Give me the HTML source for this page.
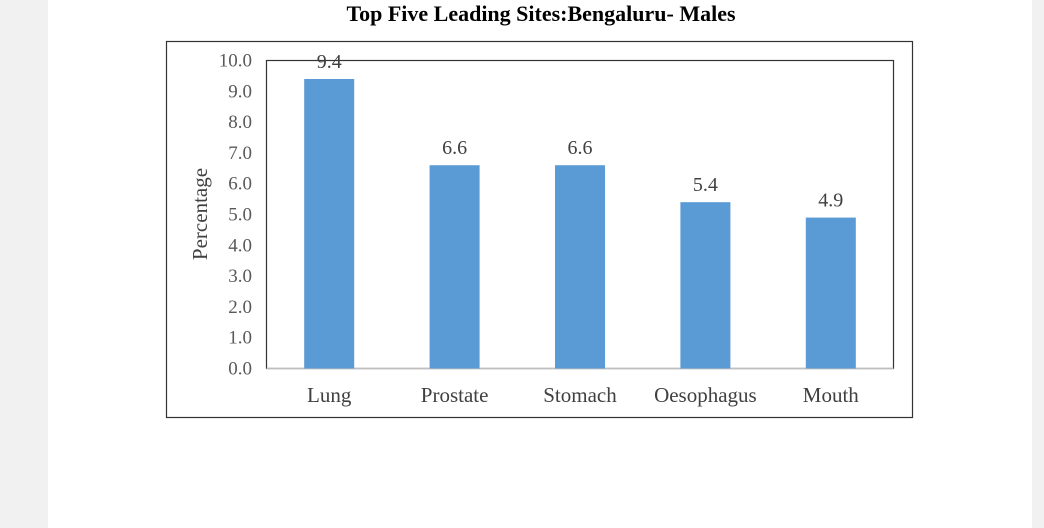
<!DOCTYPE html>
<html><head><meta charset="utf-8"><style>
body{margin:0;width:1044px;height:528px;background:#f1f1f1;overflow:hidden;font-family:"Liberation Serif",serif}
#page{position:absolute;left:48px;top:0;width:984px;height:528px;background:#fff}
</style></head><body>
<div id="page"></div>
<svg id="chart" width="1044" height="528" style="position:absolute;left:0;top:0">
<text x="541" y="21" text-anchor="middle" font-size="22" font-weight="bold" fill="#000">Top Five Leading Sites:Bengaluru- Males</text>
<rect x="166.5" y="41.5" width="746" height="376" fill="none" stroke="#333" stroke-width="1.2"/>
<rect x="266.5" y="60.5" width="627" height="308" fill="none" stroke="#333" stroke-width="1.2"/>
<text transform="translate(207,214) rotate(-90)" text-anchor="middle" font-size="21" fill="#404040">Percentage</text>
<g id="g"></g>
</svg>
<script>
const categories=["Lung","Prostate","Stomach","Oesophagus","Mouth"];
const values=[9.4,6.6,6.6,5.4,4.9];
const labels=["9.4","6.6","6.6","5.4","4.9"];
const ticks=[0,1,2,3,4,5,6,7,8,9,10];
const L=266.5,R=893.5,T=60.5,B=368.5,ymax=10;
const y=v=>B-(v/ymax)*(B-T);
const bw=(R-L)/categories.length;
const x=i=>L+bw*(i+0.5);
const g=document.getElementById('g');
const ns='http://www.w3.org/2000/svg';
function mk(t,a){const e=document.createElementNS(ns,t);for(const k in a)e.setAttribute(k,a[k]);g.appendChild(e);return e;}
ticks.forEach(t=>{
 const e=mk('text',{x:252,y:y(t)+6,'text-anchor':'end','font-size':19,fill:'#595959'});
 e.textContent=t.toFixed(1);
 
 
});
const ax=mk('line',{x1:L,x2:R,y1:B,y2:B,stroke:'#bfbfbf','stroke-width':1.5});


categories.forEach((c,i)=>{
 const r=mk('rect',{x:x(i)-25,y:y(values[i]),width:50,height:B-y(values[i]),fill:'#5b9bd5'});
 
 
 const l=mk('text',{x:x(i),y:y(values[i])-11,'text-anchor':'middle','font-size':20,fill:'#404040'});
 l.textContent=labels[i];
 
 
 const t=mk('text',{x:x(i),y:402,'text-anchor':'middle','font-size':21,fill:'#404040'});
 t.textContent=c;
 
 
});
</script>
</body></html>
